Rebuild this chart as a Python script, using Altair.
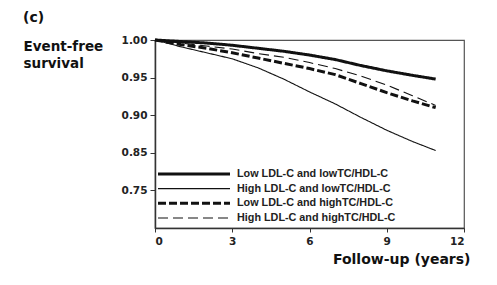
import altair as alt
import pandas as pd

# ---- data ----
years = [0, 1, 2, 3, 4, 5, 6, 7, 8, 9, 10, 10.9]
low_ldl_low_ratio = [1.000, 0.998, 0.996, 0.993, 0.989, 0.985, 0.980, 0.974, 0.966, 0.959, 0.953, 0.948]
high_ldl_low_ratio = [1.000, 0.991, 0.983, 0.975, 0.963, 0.948, 0.931, 0.915, 0.897, 0.880, 0.865, 0.853]
low_ldl_high_ratio = [1.000, 0.994, 0.989, 0.983, 0.976, 0.969, 0.962, 0.954, 0.942, 0.930, 0.919, 0.910]
high_ldl_high_ratio = [1.000, 0.996, 0.992, 0.988, 0.982, 0.977, 0.970, 0.962, 0.952, 0.940, 0.926, 0.913]

series_labels = [
    "Low LDL-C and lowTC/HDL-C",
    "High LDL-C and lowTC/HDL-C",
    "Low LDL-C and highTC/HDL-C",
    "High LDL-C and highTC/HDL-C",
]
series_values = [low_ldl_low_ratio, high_ldl_low_ratio, low_ldl_high_ratio, high_ldl_high_ratio]

x_ticks = [0, 3, 6, 9, 12]
y_tick_values = [1.0, 0.95, 0.9, 0.85, 0.8]
y_tick_labels = ["1.00", "0.95", "0.90", "0.85", "0.75"]

# ---- tables ----
rows = []
for lab, vals in zip(series_labels, series_values):
    for yr, v in zip(years, vals):
        rows.append({"series": lab, "year": yr, "survival": v})
df = pd.DataFrame(rows)
leg_df = pd.DataFrame({"series": series_labels})

dash_scale = alt.Scale(type="ordinal", domain=series_labels, range=[[1, 0], [1, 0], [8, 3], [10, 5]])
width_scale = alt.Scale(type="ordinal", domain=series_labels, range=[3, 1.1, 3, 1.1])

title_font = "DejaVu Sans"
label_expr = "[" + ",".join(f"'{s}'" for s in y_tick_labels) + "][indexof([" + ",".join(
    str(v) for v in y_tick_values) + "], datum.value)]"

lines = alt.Chart(df).mark_line(color="#111", strokeCap="butt").encode(
    x=alt.X("year:Q", scale=alt.Scale(domain=[0, 12], nice=False),
            axis=alt.Axis(values=x_ticks, title="Follow-up (years)", grid=False,
                          labelFont=title_font, labelFontWeight="bold", labelFontSize=10.5,
                          labelColor="#222", labelPadding=4, tickSize=4, tickColor="#333",
                          domainColor="#333", domainWidth=1.5,
                          titleFont=title_font, titleFontSize=14, titleFontWeight="bold",
                          titleColor="#111", titleAlign="right", titleAnchor="end",
                          titleBaseline="alphabetic", titleX=315, titleY=35)),
    y=alt.Y("survival:Q", scale=alt.Scale(domain=[0.75, 1.0], nice=False, zero=False),
            axis=alt.Axis(values=y_tick_values, labelExpr=label_expr, grid=False,
                          title=["Event-free", "survival"],
                          labelFont=title_font, labelFontWeight="bold", labelFontSize=10.5,
                          labelColor="#222", labelPadding=3, tickSize=5, tickColor="#333",
                          domainColor="#333", domainWidth=1.5,
                          titleFont=title_font, titleFontSize=13.5, titleFontWeight="bold",
                          titleColor="#111", titleAngle=0, titleAlign="left",
                          titleBaseline="top", titleX=-132, titleY=-1, titleLineHeight=17)),
    detail="series:N",
    strokeDash=alt.StrokeDash("series:N", scale=dash_scale, legend=None),
    strokeWidth=alt.StrokeWidth("series:N", scale=width_scale, legend=None),
)

leg_y = alt.Y("series:N", sort=series_labels,
              scale=alt.Scale(type="point", range=[134, 178], padding=0), axis=None)

leg_rules = alt.Chart(leg_df).mark_rule(color="#111", strokeCap="butt").encode(
    y=leg_y,
    x=alt.value(3),
    x2=alt.value(75),
    strokeDash=alt.StrokeDash("series:N", scale=dash_scale, legend=None),
    strokeWidth=alt.StrokeWidth("series:N", scale=width_scale, legend=None),
)

leg_text = alt.Chart(leg_df).mark_text(
    align="left", baseline="middle", font="Liberation Sans", fontSize=10.8,
    fontWeight="bold", color="#222"
).encode(y=leg_y, x=alt.value(82), text="series:N")

chart = alt.layer(lines, leg_rules, leg_text).resolve_scale(y="independent").properties(
    width=309, height=188,
    padding={"left": 155, "top": 40, "right": 33, "bottom": 57},
    autosize="none",
    title=alt.TitleParams("(c)", anchor="start", frame="group", dx=-132, offset=9,
                          font=title_font, fontSize=14, fontWeight="bold", color="#111"),
    background="white",
).configure_view(stroke="#555", strokeWidth=1.2)

chart.save("out.html", embed_options={"renderer": "svg", "actions": False})
